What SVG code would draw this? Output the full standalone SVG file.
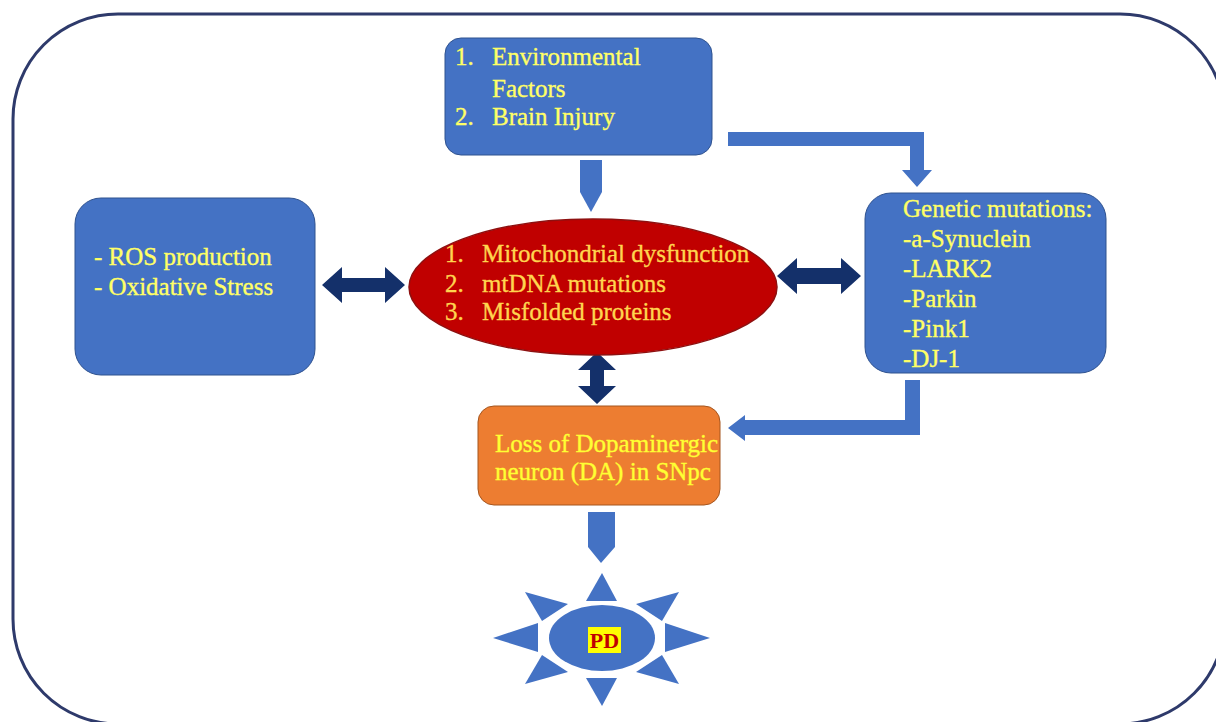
<svg xmlns="http://www.w3.org/2000/svg" width="1216" height="722" viewBox="0 0 1216 722">
<style>
  .box{fill:#4472C4;stroke:#2F528F;stroke-width:1}
  .t{font-family:"Liberation Serif","Times New Roman",serif;font-size:25px;stroke-width:0.35px}
  .ty{fill:#FFFF66;stroke:#FFFF66}
  .tg{fill:#FFD54F;stroke:#FFD54F}
  .tl{fill:#FFFF33;stroke:#FFFF33}
  .blue{fill:#4472C4}
  .navy{fill:#14306A}
</style>
<rect x="0" y="0" width="1216" height="722" fill="#FFFFFF"/>
<rect id="frame" x="13" y="14" width="1212" height="710" rx="105" ry="105" fill="none" stroke="#2E3A6B" stroke-width="3"/>

<g id="connectors">
  <polygon class="blue" points="580,160 602,160 602,192 591,212 580,192"/>
  <polygon class="blue" points="728,132 924,132 924,170 932,170 917,187 902,170 910,170 910,146 728,146"/>
  <polygon class="blue" points="905,380 920,380 920,435 745,435 745,441 728,428 745,415 745,420 905,420"/>
  <polygon class="blue" points="588,512 615,512 615,547 601,563 588,547"/>
  <polygon class="navy" points="322,285 342,267 342,278 385,278 385,267 405,285 385,303 385,292 342,292 342,303"/>
  <polygon class="navy" points="777,276 797,258 797,268 841,268 841,258 861,276 841,294 841,284 797,284 797,294"/>
  <polygon class="navy" points="597,352 616,370 604,370 604,386 616,386 597,404 578,386 590,386 590,370 578,370"/>
</g>

<g id="env">
  <rect class="box" x="445" y="38" width="267" height="117" rx="16"/>
  <text class="t ty" x="455" y="65">1.</text>
  <text class="t ty" x="492" y="65">Environmental</text>
  <text class="t ty" x="492" y="97">Factors</text>
  <text class="t ty" x="455" y="125">2.</text>
  <text class="t ty" x="492" y="125">Brain Injury</text>
</g>

<g id="ros">
  <rect class="box" x="75" y="198" width="240" height="177" rx="26"/>
  <text class="t ty" x="94" y="265">- ROS production</text>
  <text class="t ty" x="94" y="295">- Oxidative Stress</text>
</g>

<g id="mito">
  <ellipse cx="593" cy="287" rx="184" ry="68" fill="#C00000" stroke="#8E1010" stroke-width="1.5"/>
  <text class="t tg" x="445" y="262">1.</text>
  <text class="t tg" x="482" y="262">Mitochondrial dysfunction</text>
  <text class="t tg" x="445" y="292">2.</text>
  <text class="t tg" x="482" y="292">mtDNA mutations</text>
  <text class="t tg" x="445" y="320">3.</text>
  <text class="t tg" x="482" y="320">Misfolded proteins</text>
</g>

<g id="genetic">
  <rect class="box" x="865" y="193" width="241" height="180" rx="26"/>
  <text class="t ty" x="903" y="217">Genetic mutations:</text>
  <text class="t ty" x="903" y="247">-a-Synuclein</text>
  <text class="t ty" x="903" y="277">-LARK2</text>
  <text class="t ty" x="903" y="307">-Parkin</text>
  <text class="t ty" x="903" y="337">-Pink1</text>
  <text class="t ty" x="903" y="367">-DJ-1</text>
</g>

<g id="loss">
  <rect x="478" y="406" width="242" height="99" rx="16" fill="#ED7D31" stroke="#A5561F" stroke-width="1"/>
  <text class="t tl" x="495" y="452">Loss of Dopaminergic</text>
  <text class="t tl" x="495" y="480">neuron (DA) in SNpc</text>
</g>

<g id="pd">
  <polygon class="blue" points="602,573 617,601 586,601"/>
  <polygon class="blue" points="602,706 617,678 586,678"/>
  <polygon class="blue" points="493,638 538,623 538,652"/>
  <polygon class="blue" points="710,638 665,623 665,652"/>
  <polygon class="blue" points="525,592 568,604 542,621"/>
  <polygon class="blue" points="679,592 636,604 662,621"/>
  <polygon class="blue" points="525,684 568,672 542,655"/>
  <polygon class="blue" points="679,684 636,672 662,655"/>
  <ellipse class="blue" cx="602" cy="638" rx="53" ry="33"/>
  <rect x="588" y="627" width="33" height="26" fill="#FFFF00"/>
  <text x="604.5" y="648" text-anchor="middle" font-family="Liberation Serif, serif" font-weight="bold" font-size="22" fill="#C00000">PD</text>
</g>
</svg>
